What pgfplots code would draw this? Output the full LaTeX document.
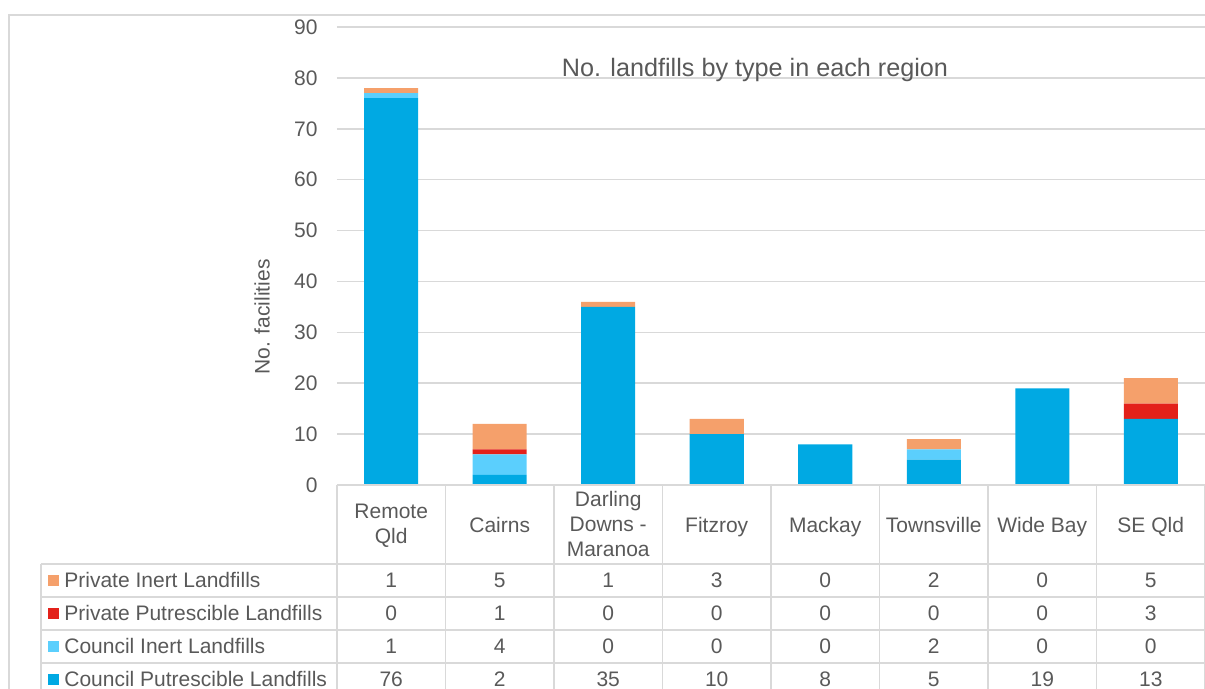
\documentclass[border=0pt]{standalone}
\usepackage{fontspec}
\setmainfont{Liberation Sans}
\usepackage{pgfplots}
\usepackage{pgfplotstable}
\pgfplotsset{compat=1.18}

\definecolor{cpBlue}{HTML}{00A9E3}
\definecolor{ciBlue}{HTML}{5BCFFD}
\definecolor{ppRed}{HTML}{E3211A}
\definecolor{piOrange}{HTML}{F5A06B}
\definecolor{txt}{HTML}{595959}
\definecolor{rule}{HTML}{D9D9D9}

% landfills per region: council putrescible, council inert,
% private putrescible, private inert
\pgfplotstableread{
idx cp ci pp pi
0 76 1 0 1
1 2 4 1 5
2 35 0 0 1
3 10 0 0 3
4 8 0 0 0
5 5 2 0 2
6 19 0 0 0
7 13 0 3 5
}\landfills

\newcommand\bodyfont{\fontsize{10.5}{12.5}\selectfont}

\begin{document}
\begin{tikzpicture}
\useasboundingbox (-168.5pt,-102pt) rectangle (434pt,242.5pt);

% chart frame (1 unit = 0.5pt, y pointing down, origin top-left)
\begin{scope}[shift={(-168.5pt,242.5pt)}, x=0.5pt, y=-0.5pt]
  \draw[rule, line width=0.75pt] (9,15) rectangle (1240,730);
\end{scope}

\begin{axis}[
  at={(0pt,0pt)}, anchor=south west,
  scale only axis, width=434pt, height=229pt,
  ybar stacked, bar width=27pt,
  xmin=-0.5, xmax=7.5, ymin=0, ymax=90,
  xtick={0,...,7},
  xticklabels={{Remote\\Qld},Cairns,{Darling\\Downs -\\Maranoa},Fitzroy,Mackay,Townsville,Wide Bay,SE Qld},
  xticklabel style={align=center, anchor=center, yshift=-21.25pt,
    font=\bodyfont, text=txt,
    execute at begin node=\strut, execute at end node=\strut},
  ytick={0,10,...,90},
  yticklabel style={font=\bodyfont, text=txt, inner xsep=0pt, xshift=-9.5pt},
  /pgf/number format/assume math mode=true,
  ymajorgrids, grid style={rule, line width=0.75pt},
  axis line style={draw=none},
  major tick length=0pt,
  title={No. landfills by type in each region},
  title style={at={(axis description cs:0.4816,0.9105)}, anchor=center,
    yshift=-7pt, font=\fontsize{12.6}{15}\selectfont, text=txt},
  ylabel={No. facilities},
  ylabel style={at={(axis description cs:-0.0864,0.367)}, anchor=center,
    font=\bodyfont, text=txt},
]
\addplot[fill=cpBlue, draw=none] table[x=idx, y=cp] {\landfills};
\addplot[fill=ciBlue, draw=none] table[x=idx, y=ci] {\landfills};
\addplot[fill=ppRed, draw=none] table[x=idx, y=pp] {\landfills};
\addplot[fill=piOrange, draw=none] table[x=idx, y=pi] {\landfills};
\end{axis}

% data table below the plot
\begin{scope}[shift={(-168.5pt,242.5pt)}, x=0.5pt, y=-0.5pt]
  \begin{scope}[rule, line width=0.75pt]
    \draw (337,485) -- (1205,485);
    \foreach \yy in {564,597,630,663} \draw (41,\yy) -- (1205,\yy);
    \draw (41,564) -- (41,720);
    \foreach \k in {0,...,8} \draw ({337+108.5*\k},485) -- ({337+108.5*\k},720);
  \end{scope}
  \foreach \c/\t/\yy in {piOrange/Private Inert Landfills/580.5,
                         ppRed/Private Putrescible Landfills/613.5,
                         ciBlue/Council Inert Landfills/646.5,
                         cpBlue/Council Putrescible Landfills/679.5} {
    \fill[\c] (48,\yy-5.5) rectangle (59,\yy+5.5);
    \node[anchor=base west, inner sep=0pt, font=\bodyfont, text=txt]
      at (64,\yy+7.5) {\t};
  }
  \foreach \col/\yy in {pi/580.5, pp/613.5, ci/646.5, cp/679.5} {
    \foreach \i in {0,...,7} {
      \pgfplotstablegetelem{\i}{\col}\of\landfills
      \node[anchor=base, inner sep=0pt, font=\bodyfont, text=txt]
        at ({337+108.5*(\i+0.5)},\yy+7.5) {\pgfplotsretval};
    }
  }
\end{scope}
\end{tikzpicture}
\end{document}
